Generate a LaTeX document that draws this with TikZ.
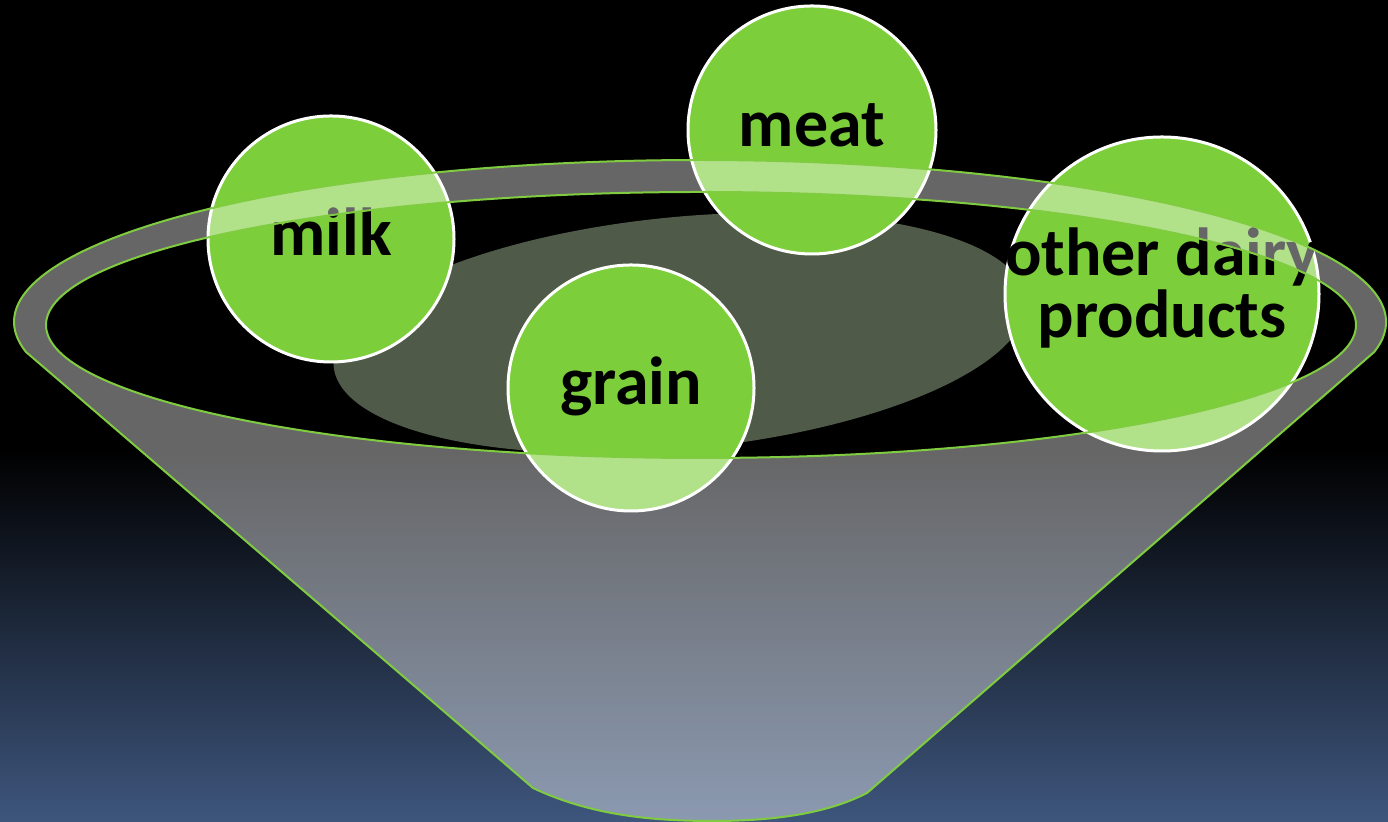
\documentclass[tikz,border=0pt]{standalone}
\usepackage{fontspec}
\setmainfont{Carlito}
\definecolor{bgblue}{RGB}{62,86,125}
\definecolor{ballgreen}{RGB}{125,206,59}
\definecolor{rimgreen}{RGB}{128,204,64}
\definecolor{basin}{RGB}{80,90,72}
\begin{document}
\begin{tikzpicture}[x=0.5pt,y=0.5pt,
  ball/.style={circle, fill=ballgreen, draw=white, line width=1.5pt, inner sep=0pt,
    font=\fontsize{34}{31}\selectfont\bfseries, text=black, align=center,
    text height=25.5pt, text depth=8.5pt},
  funnel/.style={fill=white, fill opacity=0.4, draw=rimgreen, line width=1pt, even odd rule}]
\useasboundingbox (0,0) rectangle (1388,822);
% background
\fill[black] (0,0) rectangle (1388,822);
\shade[top color=black, bottom color=bgblue] (0,0) rectangle (1388,372);
% basin inside the funnel
\fill[basin, rotate around={5.5:(680,489)}] (680,489) ellipse [x radius=348, y radius=116];
% balls
\node[ball, minimum size=123pt] (milk) at (331,583) {milk};
\node[ball, minimum size=124pt] (meat) at (812,692) {meat};
\node[ball, minimum size=123pt] (grain) at (631,434) {grain};
\node[ball, minimum size=157pt, inner sep=-12pt, text height=52pt, text depth=8.5pt] (dairy) at (1162,528) {other dairy\\products};
% funnel
\path[funnel] (26,470) arc[start angle=190.67, end angle=-10.67, x radius=686, y radius=162]
  -- (867,29) .. controls (830,10) and (780,1) .. (713,1)
  .. controls (650,1) and (590,7) .. (533,34) -- cycle
  (701,497) ellipse [x radius=655, y radius=133];
\end{tikzpicture}
\end{document}
